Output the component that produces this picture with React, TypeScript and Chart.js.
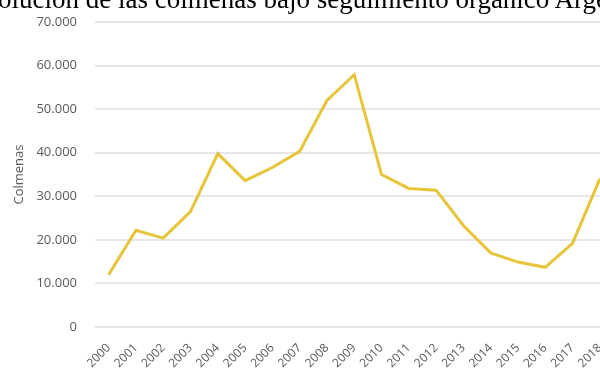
import React, { useEffect, useRef } from "react";
import { Chart, registerables } from "chart.js";

Chart.register(...registerables);

const TITLE = "Evolución de las colmenas bajo seguimiento orgánico Argentina";
const Y_TITLE = "Colmenas";
const YEARS = ["2000","2001","2002","2003","2004","2005","2006","2007","2008","2009","2010","2011","2012","2013","2014","2015","2016","2017","2018"];
const HIVES = [12000, 22200, 20400, 26500, 39800, 33600, 36600, 40300, 52000, 57900, 35000, 31800, 31400, 23300, 17000, 14900, 13700, 19200, 34000];

const fmt = (v: number) => v.toLocaleString("de-DE");

export default function App() {
  const ref = useRef<HTMLCanvasElement | null>(null);
  useEffect(() => {
    if (!ref.current) return;
    const font = { family: "'Open Sans', sans-serif", size: 12 };
    const chart = new Chart(ref.current, {
      type: "line",
      data: {
        labels: YEARS,
        datasets: [
          {
            data: HIVES,
            borderColor: "#E6C53A",
            borderWidth: 3,
            pointRadius: 0,
            tension: 0,
            fill: false,
          },
        ],
      },
      options: {
        animation: false,
        responsive: false,
        maintainAspectRatio: false,
        layout: { padding: { top: 0, left: 0, right: 0, bottom: 0 } },
        plugins: { legend: { display: false }, tooltip: { enabled: false }, title: { display: false } },
        scales: {
          x: {
            offset: true,
            grid: { display: false, drawTicks: false },
            border: { display: false },
            ticks: { color: "#595959", font, maxRotation: 45, minRotation: 45, autoSkip: false, padding: 14 },
            afterFit: (scale: any) => {
              scale.height = 45;
            },
          },
          y: {
            min: 0,
            max: 70000,
            grid: { color: "#E6E6E6", lineWidth: 2, drawTicks: false },
            border: { display: false },
            ticks: { stepSize: 10000, color: "#595959", font: { ...font, size: 13 }, padding: 18, callback: (v: any) => fmt(Number(v)) },
            title: { display: true, text: Y_TITLE, color: "#595959", font: { ...font, size: 13 }, padding: { top: 11, bottom: 0 } },
            afterFit: (scale: any) => {
              scale.width = 95;
              scale.paddingTop = 22;
              scale.paddingBottom = 0;
            },
          },
        },
      },
    });
    return () => chart.destroy();
  }, []);

  return (
    <div style={{ position: "fixed", left: 0, top: 0, width: 600, height: 372, overflow: "hidden", background: "#fff" }}>
      <canvas ref={ref} width={624} height={372} style={{ position: "absolute", left: 0, top: 0, width: 624, height: 372 }} />
      <div
        style={{
          position: "absolute",
          left: -32,
          top: -16,
          whiteSpace: "nowrap",
          fontFamily: "'Liberation Serif', 'Times New Roman', serif",
          fontSize: 27,
          color: "#000",
          lineHeight: "30px",
        }}
      >
        {TITLE}
      </div>
    </div>
  );
}
